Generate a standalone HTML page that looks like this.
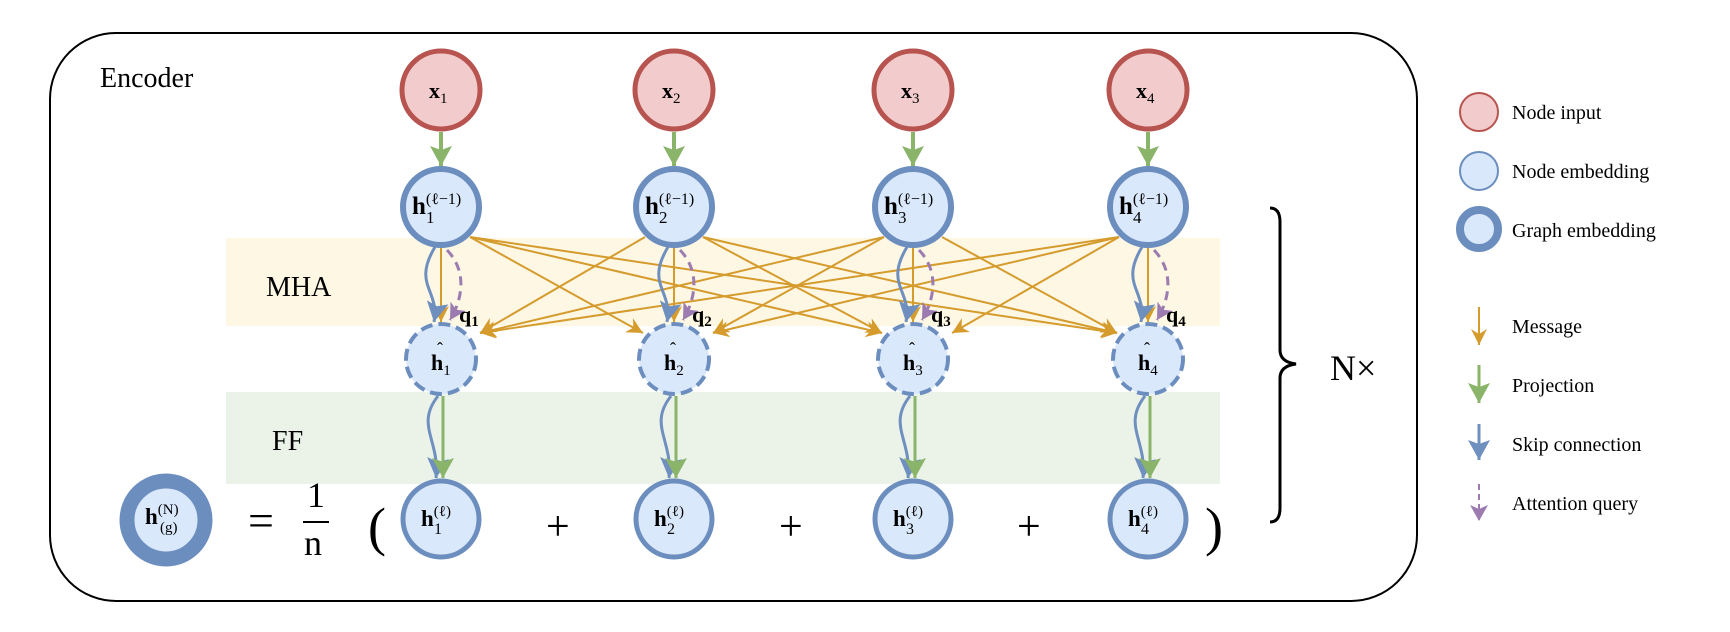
<!DOCTYPE html>
<html><head><meta charset="utf-8"><style>
html,body{margin:0;padding:0;background:#fff}
svg{display:block}
text{font-family:"Liberation Serif",serif;fill:#000}
</style></head><body>
<svg width="1730" height="632" viewBox="0 0 1730 632" xmlns="http://www.w3.org/2000/svg">
<defs>
<marker id="mo" markerUnits="userSpaceOnUse" markerWidth="20" markerHeight="16" refX="16" refY="8" orient="auto"><path d="M0,0 L16,8 L0,16 L5,8 Z" fill="#d59b2d"/></marker>
<marker id="mg" markerUnits="userSpaceOnUse" markerWidth="24" markerHeight="22" refX="20" refY="11" orient="auto"><path d="M0,0 L20,11 L0,22 L4,11 Z" fill="#8ab46a"/></marker>
<marker id="mb" markerUnits="userSpaceOnUse" markerWidth="24" markerHeight="22" refX="20" refY="11" orient="auto"><path d="M0,0 L20,11 L0,22 L4,11 Z" fill="#6f8fbf"/></marker>
<marker id="mp" markerUnits="userSpaceOnUse" markerWidth="20" markerHeight="18" refX="16" refY="9" orient="auto"><path d="M0,0 L16,9 L0,18 L4,9 Z" fill="#9b7bb0"/></marker>
</defs>
<rect x="50" y="33" width="1367" height="568" rx="66" fill="#fff" stroke="#000" stroke-width="2"/>
<text x="100" y="87" font-size="28">Encoder</text>
<rect x="226" y="238" width="994" height="88" fill="#fdf7e3"/>
<rect x="226" y="392" width="994" height="92" fill="#ebf2e8"/>
<text x="266" y="296" font-size="28">MHA</text>
<text x="272" y="450" font-size="28">FF</text>

<g stroke="#d59b2d" stroke-width="2" marker-end="url(#mo)" fill="none">
<line x1="470" y1="237" x2="643" y2="333"/>
<line x1="470" y1="237" x2="882" y2="333"/>
<line x1="470" y1="237" x2="1117" y2="333"/>
<line x1="703" y1="237" x2="882" y2="333"/>
<line x1="703" y1="237" x2="1117" y2="333"/>
<line x1="942" y1="237" x2="1117" y2="333"/>
<line x1="645" y1="237" x2="480" y2="333"/>
<line x1="884" y1="237" x2="480" y2="333"/>
<line x1="1119" y1="237" x2="480" y2="333"/>
<line x1="884" y1="237" x2="713" y2="333"/>
<line x1="1119" y1="237" x2="713" y2="333"/>
<line x1="1119" y1="237" x2="952" y2="333"/>
<line x1="441" y1="247" x2="441" y2="322"/>
<line x1="674" y1="247" x2="674" y2="322"/>
<line x1="913" y1="247" x2="913" y2="322"/>
<line x1="1148" y1="247" x2="1148" y2="322"/>
</g>

<g fill="none">
<path d="M435,247 C412,285 440,290 434,322" stroke="#6f8fbf" stroke-width="3" marker-end="url(#mb)"/>
<path d="M447,250 C468,272 462,300 450,320" stroke="#9b7bb0" stroke-width="3" stroke-dasharray="9,6" marker-end="url(#mp)"/>
<path d="M438,396 C415,425 440,440 436,478" stroke="#6f8fbf" stroke-width="3" marker-end="url(#mb)"/>
<line x1="443" y1="396" x2="443" y2="478" stroke="#8ab46a" stroke-width="3" marker-end="url(#mg)"/>
<line x1="441" y1="132" x2="441" y2="166" stroke="#8ab46a" stroke-width="4" marker-end="url(#mg)"/>
<path d="M668,247 C645,285 673,290 667,322" stroke="#6f8fbf" stroke-width="3" marker-end="url(#mb)"/>
<path d="M680,250 C701,272 695,300 683,320" stroke="#9b7bb0" stroke-width="3" stroke-dasharray="9,6" marker-end="url(#mp)"/>
<path d="M671,396 C648,425 673,440 669,478" stroke="#6f8fbf" stroke-width="3" marker-end="url(#mb)"/>
<line x1="676" y1="396" x2="676" y2="478" stroke="#8ab46a" stroke-width="3" marker-end="url(#mg)"/>
<line x1="674" y1="132" x2="674" y2="166" stroke="#8ab46a" stroke-width="4" marker-end="url(#mg)"/>
<path d="M907,247 C884,285 912,290 906,322" stroke="#6f8fbf" stroke-width="3" marker-end="url(#mb)"/>
<path d="M919,250 C940,272 934,300 922,320" stroke="#9b7bb0" stroke-width="3" stroke-dasharray="9,6" marker-end="url(#mp)"/>
<path d="M910,396 C887,425 912,440 908,478" stroke="#6f8fbf" stroke-width="3" marker-end="url(#mb)"/>
<line x1="915" y1="396" x2="915" y2="478" stroke="#8ab46a" stroke-width="3" marker-end="url(#mg)"/>
<line x1="913" y1="132" x2="913" y2="166" stroke="#8ab46a" stroke-width="4" marker-end="url(#mg)"/>
<path d="M1142,247 C1119,285 1147,290 1141,322" stroke="#6f8fbf" stroke-width="3" marker-end="url(#mb)"/>
<path d="M1154,250 C1175,272 1169,300 1157,320" stroke="#9b7bb0" stroke-width="3" stroke-dasharray="9,6" marker-end="url(#mp)"/>
<path d="M1145,396 C1122,425 1147,440 1143,478" stroke="#6f8fbf" stroke-width="3" marker-end="url(#mb)"/>
<line x1="1150" y1="396" x2="1150" y2="478" stroke="#8ab46a" stroke-width="3" marker-end="url(#mg)"/>
<line x1="1148" y1="132" x2="1148" y2="166" stroke="#8ab46a" stroke-width="4" marker-end="url(#mg)"/>
</g>

<g fill="#f2cccc" stroke="#b85450" stroke-width="5">
<circle cx="441" cy="90" r="39"/><circle cx="674" cy="90" r="39"/><circle cx="913" cy="90" r="39"/><circle cx="1148" cy="90" r="39"/>
</g>
<g font-size="22" font-weight="bold">
<text x="429" y="98">x<tspan font-size="15" font-weight="normal" dy="5">1</tspan></text>
<text x="662" y="98">x<tspan font-size="15" font-weight="normal" dy="5">2</tspan></text>
<text x="901" y="98">x<tspan font-size="15" font-weight="normal" dy="5">3</tspan></text>
<text x="1136" y="98">x<tspan font-size="15" font-weight="normal" dy="5">4</tspan></text>
</g>
<g fill="#dae8fc" stroke="#6c8ebf" stroke-width="6">
<circle cx="441" cy="207" r="38"/><circle cx="674" cy="207" r="38"/><circle cx="913" cy="207" r="38"/><circle cx="1148" cy="207" r="38"/>
</g>
<g font-size="25" font-weight="bold">
<text x="412" y="214">h<tspan font-size="16" font-weight="normal" dy="-10">(ℓ−1)</tspan><tspan font-size="17" font-weight="normal" x="426" dy="19">1</tspan></text>
<text x="645" y="214">h<tspan font-size="16" font-weight="normal" dy="-10">(ℓ−1)</tspan><tspan font-size="17" font-weight="normal" x="659" dy="19">2</tspan></text>
<text x="884" y="214">h<tspan font-size="16" font-weight="normal" dy="-10">(ℓ−1)</tspan><tspan font-size="17" font-weight="normal" x="898" dy="19">3</tspan></text>
<text x="1119" y="214">h<tspan font-size="16" font-weight="normal" dy="-10">(ℓ−1)</tspan><tspan font-size="17" font-weight="normal" x="1133" dy="19">4</tspan></text>
</g>
<g fill="#dae8fc" stroke="#6c8ebf" stroke-width="4" stroke-dasharray="12,6">
<circle cx="441" cy="359" r="35"/><circle cx="674" cy="359" r="35"/><circle cx="913" cy="359" r="35"/><circle cx="1148" cy="359" r="35"/>
</g>
<g font-size="22" font-weight="bold">
<text x="431" y="370">h<tspan font-size="15" font-weight="normal" dy="5">1</tspan></text><text x="437" y="355" font-size="18" font-weight="normal">ˆ</text>
<text x="664" y="370">h<tspan font-size="15" font-weight="normal" dy="5">2</tspan></text><text x="670" y="355" font-size="18" font-weight="normal">ˆ</text>
<text x="903" y="370">h<tspan font-size="15" font-weight="normal" dy="5">3</tspan></text><text x="909" y="355" font-size="18" font-weight="normal">ˆ</text>
<text x="1138" y="370">h<tspan font-size="15" font-weight="normal" dy="5">4</tspan></text><text x="1144" y="355" font-size="18" font-weight="normal">ˆ</text>
</g>
<g font-size="22" font-weight="bold">
<text x="459" y="322">q<tspan font-size="15" dy="4">1</tspan></text>
<text x="692" y="322">q<tspan font-size="15" dy="4">2</tspan></text>
<text x="931" y="322">q<tspan font-size="15" dy="4">3</tspan></text>
<text x="1166" y="322">q<tspan font-size="15" dy="4">4</tspan></text>
</g>
<g fill="#dae8fc" stroke="#6c8ebf" stroke-width="5">
<circle cx="441" cy="519" r="38"/><circle cx="674" cy="519" r="38"/><circle cx="913" cy="519" r="38"/><circle cx="1148" cy="519" r="38"/>
</g>
<g font-size="23" font-weight="bold">
<text x="421" y="526">h<tspan font-size="15" font-weight="normal" dy="-10">(ℓ)</tspan><tspan font-size="16" font-weight="normal" x="434" dy="18">1</tspan></text>
<text x="654" y="526">h<tspan font-size="15" font-weight="normal" dy="-10">(ℓ)</tspan><tspan font-size="16" font-weight="normal" x="667" dy="18">2</tspan></text>
<text x="893" y="526">h<tspan font-size="15" font-weight="normal" dy="-10">(ℓ)</tspan><tspan font-size="16" font-weight="normal" x="906" dy="18">3</tspan></text>
<text x="1128" y="526">h<tspan font-size="15" font-weight="normal" dy="-10">(ℓ)</tspan><tspan font-size="16" font-weight="normal" x="1141" dy="18">4</tspan></text>
</g>

<circle cx="166" cy="520" r="39" fill="#dae8fc" stroke="#6c8ebf" stroke-width="15"/>
<text x="145" y="524" font-size="23" font-weight="bold">h<tspan font-size="15" font-weight="normal" dy="-10">(N)</tspan><tspan font-size="15" font-weight="normal" x="160" dy="18">(g)</tspan></text>
<text x="248" y="536" font-size="46">=</text>
<text x="307" y="507" font-size="36">1</text>
<line x1="303" y1="522" x2="329" y2="522" stroke="#000" stroke-width="2"/>
<text x="304" y="555" font-size="36">n</text>
<text x="368" y="545" font-size="54">(</text>
<text x="546" y="540" font-size="42">+</text>
<text x="779" y="540" font-size="42">+</text>
<text x="1017" y="540" font-size="42">+</text>
<text x="1205" y="545" font-size="54">)</text>

<path d="M1270,208 Q1280,208 1280,222 L1280,350 Q1280,362 1296,364 Q1280,366 1280,378 L1280,508 Q1280,522 1270,522" fill="none" stroke="#000" stroke-width="3"/>
<text x="1330" y="380" font-size="36">N×</text>

<circle cx="1479" cy="112" r="19" fill="#f2cccc" stroke="#b85450" stroke-width="2"/>
<circle cx="1479" cy="171" r="19" fill="#dae8fc" stroke="#6c8ebf" stroke-width="2"/>
<circle cx="1479" cy="229" r="19" fill="#dae8fc" stroke="#6c8ebf" stroke-width="8"/>
<g font-size="20">
<text x="1512" y="119">Node input</text>
<text x="1512" y="178">Node embedding</text>
<text x="1512" y="237">Graph embedding</text>
<text x="1512" y="333">Message</text>
<text x="1512" y="392">Projection</text>
<text x="1512" y="451">Skip connection</text>
<text x="1512" y="510">Attention query</text>
</g>
<line x1="1479" y1="307" x2="1479" y2="345" stroke="#d59b2d" stroke-width="2" marker-end="url(#mo)"/>
<line x1="1479" y1="365" x2="1479" y2="403" stroke="#8ab46a" stroke-width="3" marker-end="url(#mg)"/>
<line x1="1479" y1="424" x2="1479" y2="460" stroke="#6f8fbf" stroke-width="3" marker-end="url(#mb)"/>
<line x1="1479" y1="484" x2="1479" y2="521" stroke="#9b7bb0" stroke-width="2" stroke-dasharray="6,4" marker-end="url(#mp)"/>
</svg>
</body></html>
